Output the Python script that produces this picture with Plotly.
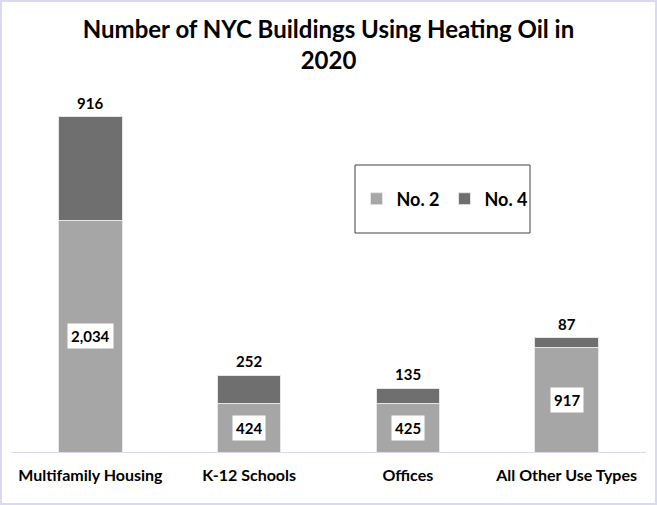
import plotly.graph_objects as go

categories = ["Multifamily Housing", "K-12 Schools", "Offices", "All Other Use Types"]
no2 = [2034, 424, 425, 917]
no4 = [916, 252, 135, 87]
title_text = "Number of NYC Buildings Using Heating Oil in<br>2020"

W, H = 657, 505
ml, mr, mt, mb = 11, 11, 80, 53
pw, ph = W - ml - mr, H - mt - mb

FONT = "Lato"
c2 = "#a6a6a6"
c4 = "#6f6f6f"

fig = go.Figure()
fig.add_trace(go.Bar(x=categories, y=no2, name="<b>No. 2</b>", marker=dict(color=c2, line=dict(color="#e6e6e6", width=1)), width=0.4))
fig.add_trace(go.Bar(x=categories, y=no4, name="<b>No. 4</b>", marker=dict(color=c4, line=dict(color="#e6e6e6", width=1)), width=0.4))

ann = []
for c, a, b in zip(categories, no2, no4):
    ann.append(dict(x=c, y=a / 2, text=f"<b>{a:,}</b>", showarrow=False, bgcolor="white",
                    borderpad=3, font=dict(family=FONT, size=15, color="black")))
    ann.append(dict(x=c, y=a + b, text=f"<b>{b:,}</b>", showarrow=False, yanchor="bottom", yshift=3,
                    font=dict(family=FONT, size=15, color="black")))

shapes = [
    dict(type="rect", xref="paper", yref="paper",
         x0=(-ml + 1) / pw, x1=1 + (mr - 1) / pw, y0=(-mb + 1) / ph, y1=1 + (mt - 1) / ph,
         line=dict(color="#d9d9f2", width=2), fillcolor="rgba(0,0,0,0)", layer="below"),
    dict(type="rect", xref="paper", yref="paper",
         x0=(355 - ml) / pw, x1=(530 - ml) / pw, y0=1 - (233 - mt) / ph, y1=1 - (165 - mt) / ph,
         line=dict(color="#404040", width=1), fillcolor="white", layer="below"),
]

fig.update_layout(
    width=W, height=H,
    margin=dict(l=ml, r=mr, t=mt, b=mb),
    barmode="stack",
    paper_bgcolor="white", plot_bgcolor="white",
    title=dict(text=f"<b>{title_text}</b>", x=0.5, xanchor="center", y=1 - 38 / H, yanchor="middle",
               font=dict(family=FONT, size=24, color="black")),
    font=dict(family=FONT, color="black"),
    xaxis=dict(showline=True, linecolor="#d9d9f2", linewidth=1, ticks="", showgrid=False,
               tickmode="array", tickvals=categories, ticktext=[f"<b>{c}</b>" for c in categories],
               tickfont=dict(family=FONT, size=16, color="black"), ticklabelstandoff=9),
    yaxis=dict(range=[0, 3275], visible=False, showgrid=False),
    legend=dict(orientation="h", x=(445 - ml) / pw, xanchor="center", y=1 - (199 - mt) / ph, yanchor="middle",
                bgcolor="rgba(0,0,0,0)", font=dict(family=FONT, size=18, color="black"),
                itemwidth=30, traceorder="normal"),
    annotations=ann,
    shapes=shapes,
    showlegend=True,
)
fig.write_html("out.html", config={"displayModeBar": False},
               post_script="document.body.style.margin='0';")
